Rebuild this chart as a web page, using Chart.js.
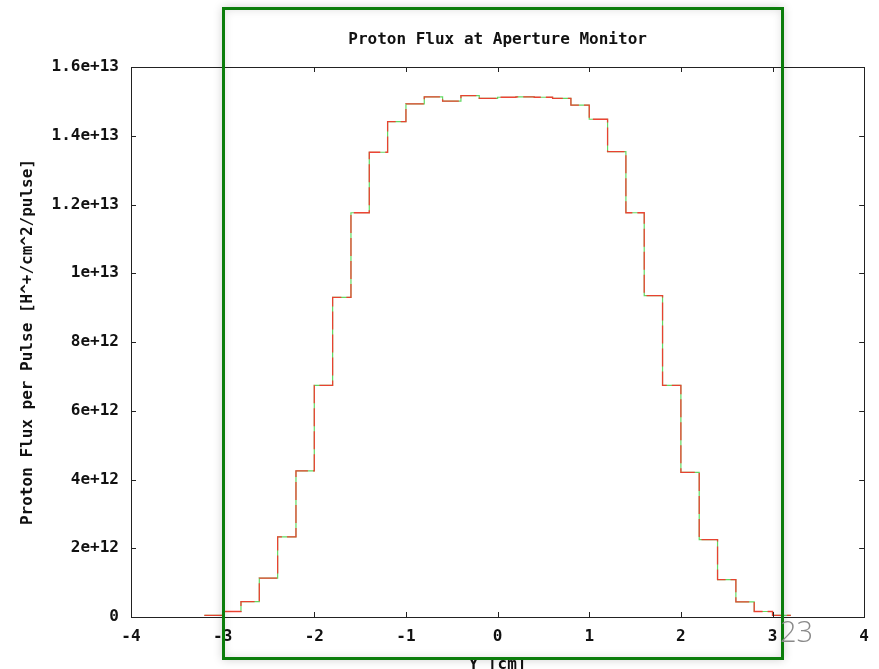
<!DOCTYPE html>
<html>
<head>
<meta charset="utf-8">
<script src="https://cdn.jsdelivr.net/npm/chart.js@4"></script>
<style>
  html, body { margin: 0; padding: 0; background: #fff; overflow: hidden; }
  #wrap { position: relative; width: 879px; height: 669px; }
  #frame {
    position: absolute; left: 222px; top: 7px; width: 556px; height: 647px;
    border: 3px solid #0b7d0b;
    box-shadow: 0 0 9px rgba(0,0,0,0.18), inset 0 0 9px rgba(0,0,0,0.12);
    pointer-events: none;
  }
  #page {
    position: absolute; left: 780px; top: 611px;
    font: 300 29px "Open Sans", sans-serif; color: #8a8a8a;
  }
</style>
</head>
<body>
<div id="wrap">
  <canvas id="myChart" width="879" height="669"></canvas>
  <div id="frame"></div>
  <div id="page">23</div>
</div>
<script>
// bordi dei bin in cm (larghezza 0.2)
const binEdges = [-3.2, -3.0, -2.8, -2.6, -2.4, -2.2, -2.0, -1.8, -1.6, -1.4, -1.2, -1.0, -0.8, -0.6, -0.4, -0.2,
  0.0, 0.2, 0.4, 0.6, 0.8, 1.0, 1.2, 1.4, 1.6, 1.8, 2.0, 2.2, 2.4, 2.6, 2.8, 3.0, 3.2];
// flusso per bin, in unita' di 1e12
const flux = [0.05, 0.16, 0.45, 1.13, 2.33, 4.25, 6.74, 9.30, 11.76, 13.52, 14.41, 14.93, 15.13, 15.01, 15.17, 15.09,
  15.12, 15.13, 15.12, 15.09, 14.89, 14.48, 13.54, 11.76, 9.35, 6.74, 4.21, 2.25, 1.09, 0.44, 0.16, 0.05];
const yTickLabels = ["0", "2e+12", "4e+12", "6e+12", "8e+12", "1e+13", "1.2e+13", "1.4e+13", "1.6e+13"];
const xTickLabels = ["-4", "-3", "-2", "-1", "0", "1", "2", "3", "4"];
const chartTitle = "Proton Flux at Aperture Monitor";

// punti per la linea a gradini: ogni bordo sinistro col valore del suo bin,
// l'ultimo bordo ripete l'ultimo valore
const points = binEdges.map(function (x, i) {
  return { x: x, y: flux[Math.min(i, flux.length - 1)] * 1e12 };
});

const monoFont = { family: "'DejaVu Sans Mono', monospace", size: 16, weight: "bold" };
const axisColor = "#222";

// tacche verso l'interno su tutti e quattro i lati + cornice + titolo centrato sul grafico
const gnuplotFrame = {
  id: "gnuplotFrame",
  afterDatasetsDraw(chart) {
    const ctx = chart.ctx;
    const a = chart.chartArea;
    const xs = chart.scales.x;
    const ys = chart.scales.y;
    const len = 5;
    ctx.save();
    ctx.strokeStyle = axisColor;
    ctx.lineWidth = 1;
    ctx.beginPath();
    xs.ticks.forEach(function (t) {
      const px = Math.round(xs.getPixelForValue(t.value)) + 0.5;
      ctx.moveTo(px, a.bottom); ctx.lineTo(px, a.bottom - len);
      ctx.moveTo(px, a.top); ctx.lineTo(px, a.top + len);
    });
    ys.ticks.forEach(function (t) {
      const py = Math.round(ys.getPixelForValue(t.value)) + 0.5;
      ctx.moveTo(a.left, py); ctx.lineTo(a.left + len, py);
      ctx.moveTo(a.right, py); ctx.lineTo(a.right - len, py);
    });
    ctx.stroke();
    ctx.strokeRect(Math.round(a.left) + 0.5, Math.round(a.top) + 0.5,
      Math.round(a.right - a.left), Math.round(a.bottom - a.top));

    ctx.fillStyle = "#111";
    ctx.font = "bold 16px 'DejaVu Sans Mono', monospace";
    ctx.textAlign = "center";
    ctx.textBaseline = "middle";
    ctx.fillText(chartTitle, (a.left + a.right) / 2, a.top - 27);
    ctx.restore();
  }
};

const ctx = document.getElementById("myChart");
new Chart(ctx, {
  type: "line",
  data: {
    datasets: [
      {
        data: points,
        stepped: "before",
        borderColor: "rgba(255,40,40,0.85)",
        borderWidth: 1.3,
        borderDash: [18, 5],
        pointRadius: 0,
        fill: false,
        order: 0
      },
      {
        data: points,
        stepped: "before",
        borderColor: "rgba(70,210,70,0.85)",
        borderWidth: 1.2,
        pointRadius: 0,
        fill: false,
        order: 1
      }
    ]
  },
  options: {
    responsive: false,
    animation: false,
    layout: { padding: { left: 0, right: 14, top: 67, bottom: 0 } },
    plugins: {
      legend: { display: false },
      tooltip: { enabled: false },
      title: { display: false }
    },
    scales: {
      x: {
        type: "linear",
        min: -4,
        max: 4,
        afterFit: function (s) { s.height = 52; },
        border: { display: false },
        grid: { display: false, drawTicks: false },
        ticks: {
          stepSize: 1,
          color: "#111",
          font: monoFont,
          padding: 10,
          maxRotation: 0,
          callback: function (v, i) { return xTickLabels[i]; }
        },
        title: {
          display: true,
          text: "Y [cm]",
          color: "#111",
          font: monoFont,
          padding: { top: 9, bottom: -5 }
        }
      },
      y: {
        min: 0,
        max: 1.6e13,
        afterFit: function (s) { s.width = 131; },
        border: { display: false },
        grid: { display: false, drawTicks: false },
        ticks: {
          stepSize: 2e12,
          color: "#111",
          font: monoFont,
          padding: 12,
          callback: function (v, i) { return yTickLabels[i]; }
        },
        title: {
          display: true,
          text: "Proton Flux per Pulse [H^+/cm^2/pulse]",
          color: "#111",
          font: monoFont,
          padding: { top: 18, bottom: 0 }
        }
      }
    }
  },
  plugins: [gnuplotFrame]
});
</script>
</body>
</html>
